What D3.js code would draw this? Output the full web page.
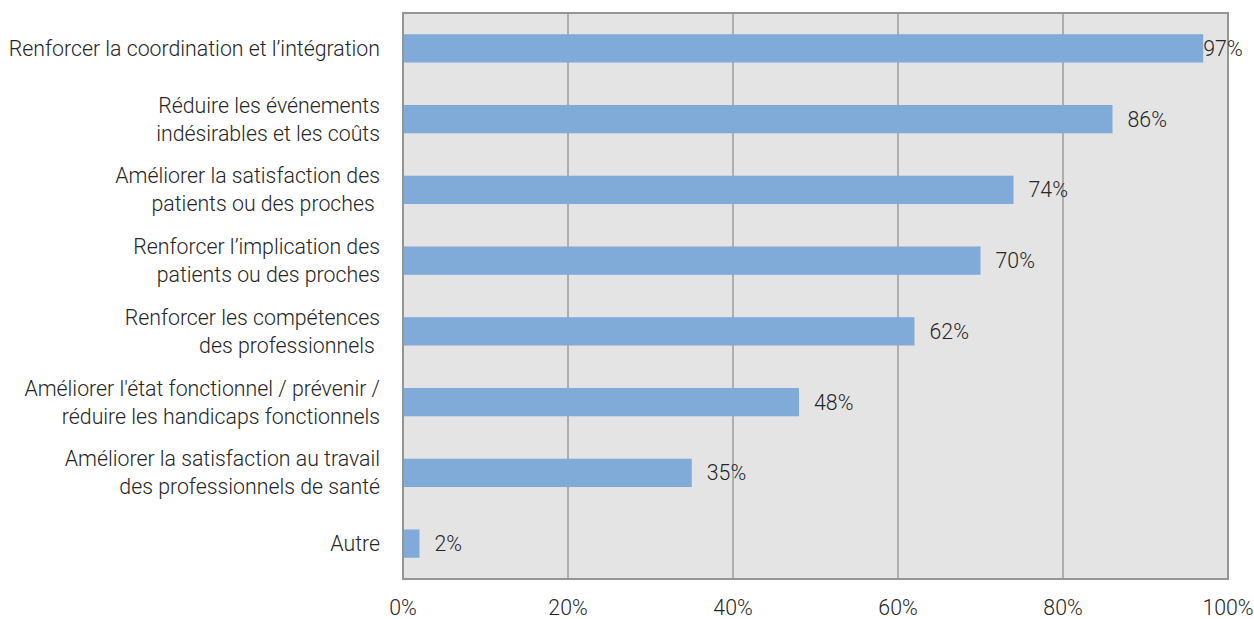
<!DOCTYPE html>
<html>
<head>
<meta charset="utf-8">
<script src="https://cdn.jsdelivr.net/npm/d3@7"></script>
<style>
  body { margin: 0; background: #fff; overflow: hidden; }
  text { font-family: Roboto, "Noto Sans", sans-serif; font-weight: 300; fill: #262626; }
</style>
</head>
<body>
<div id="chart"></div>
<script>
// categories (each entry is the list of label lines)
var categories = [
  ["Renforcer la coordination et l\u2019intégration"],
  ["Réduire les événements", "indésirables et les coûts"],
  ["Améliorer la satisfaction des", "patients ou des proches "],
  ["Renforcer l\u2019implication des", "patients ou des proches"],
  ["Renforcer les compétences", "des professionnels "],
  ["Améliorer l'état fonctionnel / prévenir /", "réduire les handicaps fonctionnels"],
  ["Améliorer la satisfaction au travail", "des professionnels de santé"],
  ["Autre"]
];
var values = [97, 86, 74, 70, 62, 48, 35, 2];
var ticks = [0, 20, 40, 60, 80, 100];

var width = 1254, height = 619;
var margin = { top: 13, right: 26, bottom: 40, left: 403 };
var fontSize = "21.3px";

var svg = d3.select("#chart").append("svg")
  .attr("width", width)
  .attr("height", height)
  .style("display", "block");

var x = d3.scaleLinear().domain([0, 100]).range([margin.left, width - margin.right]);
var y = d3.scaleBand()
  .domain(d3.range(categories.length))
  .range([margin.top, height - margin.bottom])
  .paddingInner(0.6)
  .paddingOuter(0.3);

// plot background
svg.append("rect")
  .attr("x", x(0)).attr("y", margin.top)
  .attr("width", x(100) - x(0))
  .attr("height", height - margin.bottom - margin.top)
  .attr("fill", "#e4e4e4");

// vertical gridlines
svg.selectAll(".grid")
  .data(ticks.slice(1, -1))
  .enter().append("line")
  .attr("x1", function(d) { return x(d); })
  .attr("x2", function(d) { return x(d); })
  .attr("y1", margin.top)
  .attr("y2", height - margin.bottom)
  .attr("stroke", "#9c9c9c")
  .attr("stroke-width", 1.5);

// bars
svg.selectAll(".bar")
  .data(values)
  .enter().append("rect")
  .attr("x", x(0))
  .attr("y", function(d, i) { return y(i); })
  .attr("width", function(d) { return x(d) - x(0); })
  .attr("height", y.bandwidth())
  .attr("fill", "#80abd8");

// plot border
svg.append("rect")
  .attr("x", x(0)).attr("y", margin.top)
  .attr("width", x(100) - x(0))
  .attr("height", height - margin.bottom - margin.top)
  .attr("fill", "none")
  .attr("stroke", "#959595")
  .attr("stroke-width", 2);

// value labels (the 97% one sits flush at the bar end)
svg.selectAll(".val")
  .data(values)
  .enter().append("text")
  .attr("x", function(d) { return d > 95 ? x(d) : x(d) + 15; })
  .attr("y", function(d, i) { return y(i) + y.bandwidth() / 2; })
  .attr("dy", "0.35em")
  .style("font-size", fontSize)
  .text(function(d) { return d + "%"; });

// category labels
var cat = svg.selectAll(".cat")
  .data(categories)
  .enter().append("text")
  .attr("text-anchor", "end")
  .attr("xml:space", "preserve")
  .style("white-space", "pre")
  .style("font-size", fontSize);

cat.selectAll("tspan")
  .data(function(d, i) {
    return d.map(function(line, j) { return { line: line, j: j, n: d.length, i: i }; });
  })
  .enter().append("tspan")
  .attr("x", 380)
  .attr("y", function(d) {
    var c = y(d.i) + y.bandwidth() / 2;
    return c + (d.j - (d.n - 1) / 2) * 28;
  })
  .attr("dy", "0.35em")
  .text(function(d) { return d.line; });

// x axis tick labels
svg.selectAll(".tick")
  .data(ticks)
  .enter().append("text")
  .attr("x", function(d) { return x(d); })
  .attr("y", 607.5)
  .attr("dy", "0.35em")
  .attr("text-anchor", "middle")
  .style("font-size", fontSize)
  .text(function(d) { return d + "%"; });
</script>
</body>
</html>
